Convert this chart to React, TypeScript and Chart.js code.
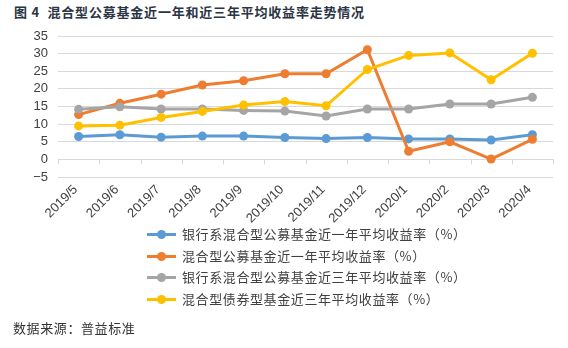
import React, { useEffect, useRef } from "react";
import { Chart, registerables } from "chart.js";

Chart.register(...registerables);

const categories = ["2019/5", "2019/6", "2019/7", "2019/8", "2019/9", "2019/10", "2019/11", "2019/12", "2020/1", "2020/2", "2020/3", "2020/4"];
const bankMixedOneYear = [6.5, 7.0, 6.3, 6.6, 6.6, 6.2, 5.9, 6.2, 5.8, 5.8, 5.5, 7.0];
const mixedOneYear = [12.7, 15.9, 18.5, 21.1, 22.3, 24.3, 24.3, 31.1, 2.3, 5.0, 0.1, 5.7];
const bankMixedThreeYear = [14.2, 14.9, 14.3, 14.3, 13.9, 13.7, 12.3, 14.3, 14.3, 15.7, 15.7, 17.6];
const mixedBondThreeYear = [9.5, 9.7, 11.9, 13.6, 15.4, 16.4, 15.2, 25.5, 29.5, 30.2, 22.6, 30.1];
const seriesNames = [
  "银行系混合型公募基金近一年平均收益率（%）",
  "混合型公募基金近一年平均收益率（%）",
  "银行系混合型公募基金近三年平均收益率（%）",
  "混合型债券型基金近三年平均收益率（%）",
];
const seriesColors = ["#5B9BD5", "#ED7D31", "#A5A5A5", "#FFC000"];
const yMin = -5;
const yMax = 35;
const yStep = 5;

const titleText = "图 4  混合型公募基金近一年和近三年平均收益率走势情况";
const sourceText = "数据来源：普益标准";

const zeroTicksPlugin = {
  id: "zeroTicks",
  afterDatasetsDraw(chart: any) {
    const { ctx, scales } = chart;
    const x = scales.x;
    const y = scales.y;
    const y0 = y.getPixelForValue(0);
    ctx.save();
    ctx.strokeStyle = "#d9d9d9";
    ctx.lineWidth = 1;
    const n = x.ticks.length;
    const step = x.getPixelForTick(1) - x.getPixelForTick(0);
    ctx.beginPath();
    for (let i = 0; i <= n; i++) {
      const px = Math.round(x.getPixelForTick(0) + (i - 0.5) * step) + 0.5;
      ctx.moveTo(px, y0);
      ctx.lineTo(px, y0 + 5);
    }
    ctx.stroke();
    ctx.restore();
  },
};

export default function App() {
  const ref = useRef<HTMLCanvasElement | null>(null);

  useEffect(() => {
    if (!ref.current) return;
    const all = [bankMixedOneYear, mixedOneYear, bankMixedThreeYear, mixedBondThreeYear];
    const chart = new Chart(ref.current, {
      type: "line",
      data: {
        labels: categories,
        datasets: all.map((d, i) => ({
          label: seriesNames[i],
          data: d,
          borderColor: seriesColors[i],
          backgroundColor: seriesColors[i],
          borderWidth: 3,
          pointRadius: 4.5,
          pointBorderWidth: 0,
          pointBackgroundColor: seriesColors[i],
          tension: 0,
          order: 4 - i,
        })),
      },
      options: {
        animation: false,
        responsive: false,
        maintainAspectRatio: false,
        layout: { padding: { left: 0, right: 15, top: 36, bottom: 0 } },
        plugins: { legend: { display: false }, tooltip: { enabled: false } },
        scales: {
          x: {
            offset: true,
            grid: { display: false },
            border: { display: false },
            afterFit: (s: any) => {
              s.height = 53;
            },
            ticks: {
              maxRotation: 45,
              minRotation: 45,
              autoSkip: false,
              padding: -3,
              labelOffset: -3,
              color: "#404040",
              font: { family: "Liberation Sans", size: 13 },
            },
          },
          y: {
            min: yMin,
            max: yMax,
            border: { display: false },
            grid: { color: "#d9d9d9", drawTicks: false },
            afterFit: (s: any) => {
              s.width = 58;
            },
            ticks: {
              stepSize: yStep,
              autoSkip: false,
              padding: 10,
              color: "#404040",
              font: { family: "Liberation Sans", size: 13 },
              callback: (v: any) => (Number(v) < 0 ? "−" + Math.abs(Number(v)) : String(v)),
            },
          },
        },
      },
      plugins: [zeroTicksPlugin],
    });
    return () => chart.destroy();
  }, []);

  const legendTops = [234, 256, 277, 299];

  return (
    <div style={{ position: "fixed", left: 0, top: 0, width: 568, height: 348, background: "#fff", overflow: "hidden" }}>
      <div
        style={{
          position: "absolute",
          left: 14,
          top: 3,
          fontFamily: "'Noto Sans CJK SC'",
          fontSize: 13,
          fontWeight: 700,
          letterSpacing: 0.8,
          color: "#2a3444",
          whiteSpace: "pre",
          lineHeight: "18px",
        }}
      >
        {titleText}
      </div>
      <canvas ref={ref} width={568} height={230} style={{ position: "absolute", left: 0, top: 0, width: 568, height: 230 }} />
      {seriesNames.map((name, i) => (
        <div key={name} style={{ position: "absolute", left: 147, top: legendTops[i] - 9, height: 18, display: "flex", alignItems: "center" }}>
          <div style={{ position: "relative", width: 29, height: 10, marginRight: 6 }}>
            <div style={{ position: "absolute", left: 0, top: 3.5, width: 29, height: 3, background: seriesColors[i] }} />
            <div style={{ position: "absolute", left: 10, top: 0.5, width: 9, height: 9, borderRadius: "50%", background: seriesColors[i] }} />
          </div>
          <span style={{ fontFamily: "'Noto Sans CJK SC'", fontSize: 13, letterSpacing: 0.6, color: "#404040", whiteSpace: "pre", lineHeight: "18px" }}>{name}</span>
        </div>
      ))}
      <div
        style={{
          position: "absolute",
          left: 13,
          top: 319,
          fontFamily: "'Noto Sans CJK SC'",
          fontSize: 13,
          letterSpacing: 0.6,
          color: "#333",
          lineHeight: "18px",
        }}
      >
        {sourceText}
      </div>
    </div>
  );
}
